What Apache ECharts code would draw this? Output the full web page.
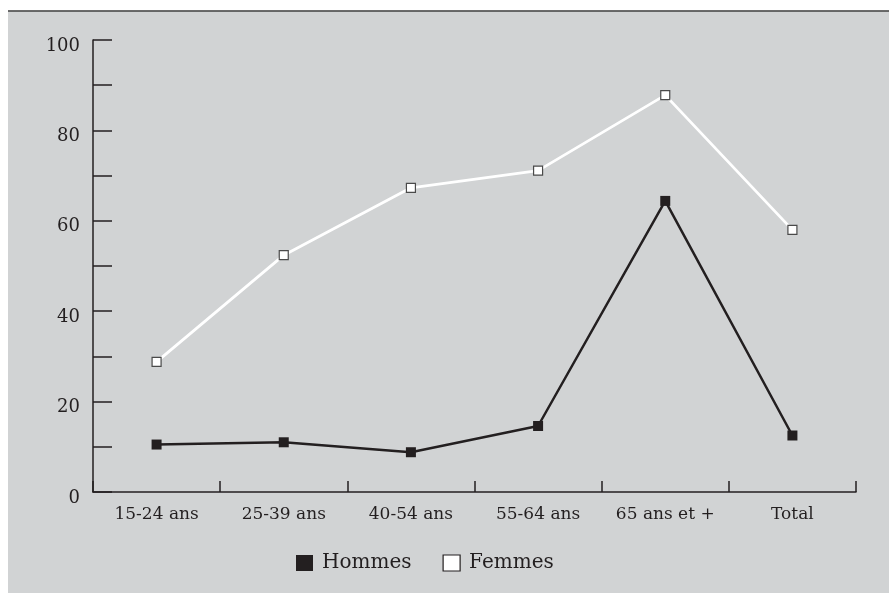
<!DOCTYPE html>
<html>
<head>
<meta charset="utf-8">
<script src="https://cdn.jsdelivr.net/npm/echarts@6/dist/echarts.min.js"></script>
<style>
html,body{margin:0;padding:0;background:#ffffff;}
#chart{width:889px;height:593px;}
</style>
</head>
<body>
<div id="chart"></div>
<script>
var categories = ['15-24 ans', '25-39 ans', '40-54 ans', '55-64 ans', '65 ans et +', 'Total'];
var hommes = [10.5, 11.0, 8.8, 14.6, 64.4, 12.5];
var femmes = [28.8, 52.4, 67.3, 71.1, 87.8, 58.0];
var yLabels = ['0', '20', '40', '60', '80', '100'];

var ink = '#231f20';
var chart = echarts.init(document.getElementById('chart'), null, {renderer: 'canvas'});
chart.setOption({
  animation: false,
  backgroundColor: '#ffffff',
  graphic: [
    {type: 'rect', z: -10, shape: {x: 8, y: 11.5, width: 881, height: 582}, style: {fill: '#d1d3d4'}},
    {type: 'line', z: -9, shape: {x1: 8, y1: 11, x2: 889, y2: 11}, style: {stroke: '#3a3a3a', lineWidth: 1.5}}
  ],
  grid: {left: 93, right: 33, top: 40, bottom: 101, containLabel: false},
  legend: {
    left: 296, top: 553, padding: 0,
    itemWidth: 17, itemHeight: 16, itemGap: 31,
    textStyle: {fontFamily: 'DejaVu Serif', fontSize: 20, color: ink, padding: [0, 0, 0, 4]},
    data: [
      {name: 'Hommes', icon: 'rect', itemStyle: {color: ink, borderWidth: 0}},
      {name: 'Femmes', icon: 'rect', itemStyle: {color: '#ffffff', borderColor: ink, borderWidth: 1.2}}
    ]
  },
  xAxis: {
    type: 'category',
    data: categories,
    boundaryGap: true,
    axisLine: {lineStyle: {color: ink, width: 1.5}},
    axisTick: {show: true, inside: true, length: 11, interval: 0, alignWithLabel: false, lineStyle: {color: ink, width: 1.5}},
    axisLabel: {fontFamily: 'DejaVu Serif', fontSize: 17, color: ink, margin: 14, interval: 0, hideOverlap: false},
    splitLine: {show: false}
  },
  yAxis: {
    type: 'value',
    min: 0, max: 100, interval: 10,
    axisLine: {show: true, lineStyle: {color: ink, width: 1.5}},
    axisTick: {show: true, inside: true, length: 19, lineStyle: {color: ink, width: 1.5}},
    axisLabel: {
      fontFamily: 'DejaVu Serif', fontSize: 18, color: ink, margin: 13,
      verticalAlign: 'top', lineHeight: 12,
      formatter: function (v) {
        var s = String(v);
        return yLabels.indexOf(s) >= 0 ? s : '';
      }
    },
    splitLine: {show: false}
  },
  series: [
    {
      name: 'Femmes', type: 'line', data: femmes,
      symbol: 'rect', symbolSize: 9,
      lineStyle: {color: '#ffffff', width: 2.8},
      itemStyle: {color: '#ffffff', borderColor: '#4a4a4a', borderWidth: 1.2},
      z: 2
    },
    {
      name: 'Hommes', type: 'line', data: hommes,
      symbol: 'rect', symbolSize: 10,
      lineStyle: {color: ink, width: 2.5},
      itemStyle: {color: ink, borderWidth: 0},
      z: 3
    }
  ]
});
</script>
</body>
</html>
